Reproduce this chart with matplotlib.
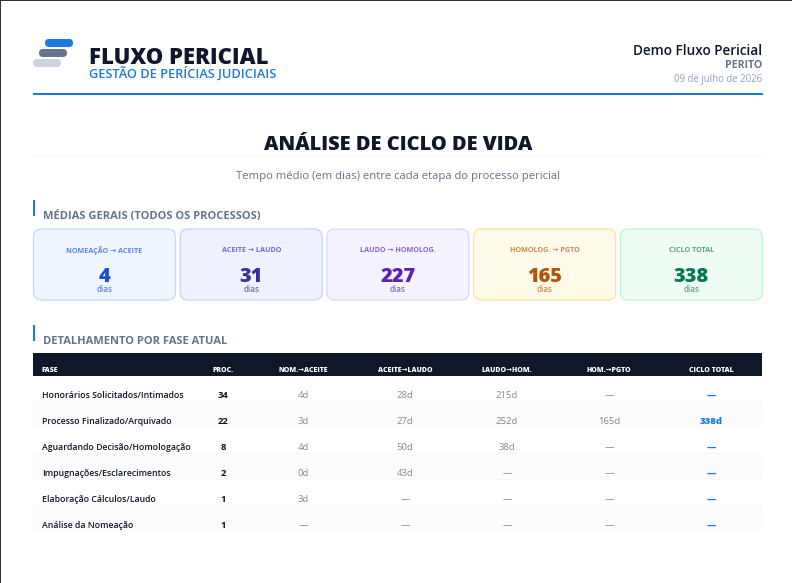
import matplotlib
matplotlib.use("Agg")
import matplotlib.pyplot as plt
from matplotlib.patches import FancyBboxPatch, Rectangle

plt.rcParams["font.family"] = ["Open Sans", "DejaVu Sans"]

card_labels = ["NOMEAÇÃO → ACEITE", "ACEITE → LAUDO", "LAUDO → HOMOLOG.", "HOMOLOG. → PGTO", "CICLO TOTAL"]
card_values = ["4", "31", "227", "165", "338"]
card_bg = ["#eff6ff", "#eef2ff", "#f5f3ff", "#fffbeb", "#f0fdf4"]
card_edge = ["#bfdbfe", "#c7d2fe", "#ddd6fe", "#fde68a", "#bbf7d0"]
card_fg = ["#1d4ed8", "#3730a3", "#5b21b6", "#b45309", "#047857"]
card_sub = ["#5f85e3", "#6f69c8", "#8a63cf", "#cb8a55", "#5aa582"]

headers = ["FASE", "PROC.", "NOM.→ACEITE", "ACEITE→LAUDO", "LAUDO→HOM.", "HOM.→PGTO", "CICLO TOTAL"]
phases = [
    "Honorários Solicitados/Intimados",
    "Processo Finalizado/Arquivado",
    "Aguardando Decisão/Homologação",
    "Impugnações/Esclarecimentos",
    "Elaboração Cálculos/Laudo",
    "Análise da Nomeação",
]
proc = ["34", "22", "8", "2", "1", "1"]
nom_aceite = ["4d", "3d", "4d", "0d", "3d", "—"]
aceite_laudo = ["28d", "27d", "50d", "43d", "—", "—"]
laudo_hom = ["215d", "252d", "38d", "—", "—", "—"]
hom_pgto = ["—", "165d", "—", "—", "—", "—"]
ciclo_total = ["—", "338d", "—", "—", "—", "—"]

NAVY = "#0f172a"
BLUE = "#1a7ae0"


def px(size):
    return size * 0.72


fig = plt.figure(figsize=(7.92, 5.83), dpi=100)
ax = fig.add_axes([0, 0, 1, 1])
ax.set_xlim(0, 792)
ax.set_ylim(583, 0)
ax.axis("off")


def rect(x, y, w, h, color, z=1):
    ax.add_patch(Rectangle((x, y), w, h, facecolor=color, edgecolor="none", zorder=z))


def pill(x, y, w, h, color):
    ax.add_patch(FancyBboxPatch((x + h / 2, y + h / 2), w - h, 0, boxstyle=f"round,pad={h / 2},rounding_size={h / 2}",
                                facecolor=color, edgecolor="none", zorder=2))


# window edge
rect(0, 0, 1, 583, "#333333", 5)
rect(0, 0, 792, 1, "#333333", 5)

# header
pill(45, 39, 28, 8, BLUE)
pill(39, 49, 28, 8, "#64748b")
pill(33, 59, 28, 8, "#cbd5e1")
ax.text(89, 64.5, "FLUXO PERICIAL", fontsize=px(22), fontweight=800, color=NAVY, va="baseline", ha="left")
ax.text(89, 77.5, "GESTÃO DE PERÍCIAS JUDICIAIS", fontsize=px(12.7), fontweight="semibold", color=BLUE, va="baseline", ha="left")
ax.text(762.5, 51, "Demo Fluxo Pericial", fontsize=px(13.6), fontweight="semibold", color=NAVY, va="center", ha="right")
ax.text(762.5, 65.5, "PERITO", fontsize=px(10.5), fontweight="bold", color="#64748b", va="center", ha="right")
ax.text(762.5, 79.5, "09 de julho de 2026", fontsize=px(9.7), color="#94a3b8", va="center", ha="right")
rect(33, 93, 730, 2, BLUE)

# title
ax.text(398, 145, "ANÁLISE DE CICLO DE VIDA", fontsize=px(20), fontweight=800, color=NAVY, va="center", ha="center")
rect(33, 155, 730, 1, "#f1f5f9")
ax.text(398, 177, "Tempo médio (em dias) entre cada etapa do processo pericial", fontsize=px(11.3), color="#64748b",
        va="center", ha="center")

# section headings
for bar_y, text_y, label in [(200, 216.5, "MÉDIAS GERAIS (TODOS OS PROCESSOS)"), (325, 341.5, "DETALHAMENTO POR FASE ATUAL")]:
    rect(33, bar_y, 2, 16, BLUE)
    ax.text(43, text_y, label, fontsize=px(11.1), fontweight="bold", color="#64748b", va="center", ha="left")

# cards
for i, label in enumerate(card_labels):
    x = 33.5 + i * 146.7
    ax.add_patch(FancyBboxPatch((x + 8, 229 + 8), 142 - 16, 71 - 16, boxstyle="round,pad=8,rounding_size=8",
                                facecolor=card_bg[i], edgecolor=card_edge[i], linewidth=0.9, zorder=2))
    cx = x + 71
    ax.text(cx, 250.5, label, fontsize=px(7.3), fontweight="bold", color=card_sub[i], va="center", ha="center", zorder=3)
    ax.text(cx, 277, card_values[i], fontsize=px(20), fontweight=800, color=card_fg[i], va="center", ha="center", zorder=3)
    ax.text(cx, 290, "dias", fontsize=px(8), fontweight="semibold", color=card_sub[i], va="center", ha="center", zorder=3)

# table
rect(33, 353, 729, 23, NAVY)
col_x = [42, 223, 303, 405, 507, 609, 711]
for j, h in enumerate(headers):
    ax.text(col_x[j], 370, h, fontsize=px(7), fontweight=800, color="white", va="center",
            ha="left" if j == 0 else "center", zorder=3)

row_h = 26
columns = [nom_aceite, aceite_laudo, laudo_hom, hom_pgto]
for r, phase in enumerate(phases):
    top = 376 + r * row_h
    y = top + 19.2
    if r % 2 == 1:
        rect(33, top, 729, row_h, "#fcfcfd")
    rect(33, top + row_h - 1, 729, 1, "#f6f7f9", 2)
    ax.text(42, y, phase, fontsize=px(8.8), fontweight="semibold", color=NAVY, va="center", ha="left", zorder=3)
    ax.text(col_x[1], y, proc[r], fontsize=px(9.5), fontweight="bold", color=NAVY, va="center", ha="center", zorder=3)
    for c, col in enumerate(columns):
        ax.text(col_x[c + 2], y, col[r], fontsize=px(9.5), color="#808a98", va="center", ha="center", zorder=3)
    ax.text(col_x[6], y, ciclo_total[r], fontsize=px(9.5), fontweight=800, color=BLUE, va="center", ha="center", zorder=3)

fig.savefig("out.png", dpi=100, facecolor="white")
